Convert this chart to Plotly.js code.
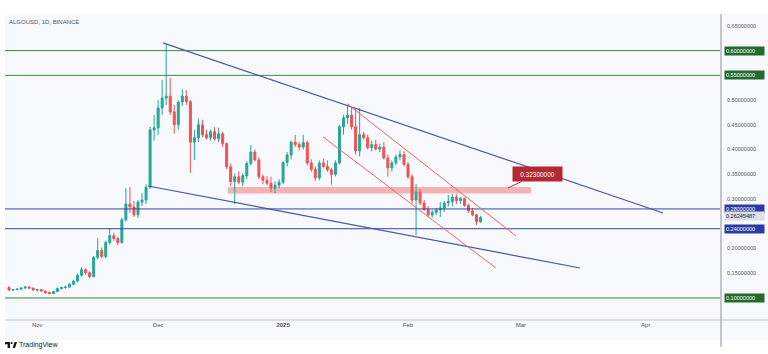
<!DOCTYPE html>
<html><head><meta charset="utf-8">
<script src="https://cdn.plot.ly/plotly-3.0.1.min.js"></script>
<style>html,body{margin:0;padding:0;background:#fff;}#chart{width:768px;height:354px;}</style>
</head><body><div id="chart"></div>
<script>
// ---- data (daily candles, ALGOUSD 1D, starting 2024-10-25) ----
const startDate = [2024, 9, 25];
const open = [.121,.116,.117,.118,.120,.122,.120,.116,.117,.114,
.111,.109,.113,.119,.121,.122,.128,.134,.146,.157,
.151,.143,.182,.196,.184,.212,.226,.220,.212,.258,
.290,.284,.268,.294,.298,.324,.440,.444,.484,.504,
.508,.476,.450,.496,.508,.497,.415,.424,.450,.430,
.424,.436,.422,.432,.412,.365,.335,.345,.334,.347,
.372,.395,.379,.345,.338,.332,.322,.328,.334,.374,
.389,.415,.410,.405,.414,.373,.360,.343,.373,.366,
.359,.350,.373,.446,.464,.470,.446,.397,.430,.424,
.404,.410,.401,.405,.383,.363,.373,.385,.390,.370,
.345,.298,.314,.292,.279,.268,.273,.278,.282,.292,
.295,.304,.297,.301,.287,.276,.268,.254];
const high = [.124,.119,.119,.121,.124,.124,.121,.118,.118,.115,
.113,.114,.121,.123,.125,.129,.137,.149,.162,.160,
.154,.185,.221,.202,.216,.241,.232,.224,.262,.322,
.324,.296,.298,.312,.330,.446,.470,.500,.541,.612,
.545,.490,.500,.522,.520,.500,.440,.462,.460,.440,
.440,.445,.444,.436,.414,.372,.352,.356,.352,.376,
.409,.400,.384,.350,.346,.345,.336,.340,.376,.395,
.418,.430,.415,.430,.418,.380,.366,.378,.382,.378,
.363,.378,.450,.470,.490,.486,.484,.484,.436,.430,
.418,.420,.412,.415,.390,.378,.390,.398,.397,.375,
.350,.330,.320,.298,.286,.278,.282,.294,.296,.308,
.310,.310,.305,.303,.290,.282,.270,.266];
const low = [.114,.114,.116,.116,.119,.119,.115,.113,.113,.108,
.107,.108,.112,.117,.119,.121,.126,.132,.143,.147,
.140,.142,.178,.180,.180,.208,.215,.207,.210,.254,
.272,.264,.262,.286,.290,.320,.418,.430,.470,.490,
.470,.432,.440,.488,.490,.353,.379,.415,.425,.420,
.418,.418,.415,.405,.360,.326,.290,.330,.326,.340,
.368,.376,.340,.330,.328,.314,.312,.322,.330,.366,
.380,.405,.398,.400,.368,.355,.336,.338,.362,.355,
.329,.346,.370,.430,.452,.440,.390,.386,.420,.400,
.396,.398,.395,.380,.345,.355,.368,.378,.366,.340,
.290,.227,.288,.276,.265,.262,.268,.264,.274,.285,
.285,.290,.290,.284,.272,.265,.248,.252];
const close = [.116,.117,.118,.120,.122,.120,.116,.117,.114,.111,
.109,.113,.119,.121,.122,.128,.134,.146,.157,.151,
.143,.182,.196,.184,.212,.226,.220,.212,.258,.290,
.284,.268,.294,.298,.324,.440,.444,.484,.504,.508,
.476,.450,.496,.508,.497,.415,.424,.450,.430,.424,
.436,.422,.432,.412,.365,.335,.345,.334,.347,.372,
.395,.379,.345,.338,.332,.322,.328,.334,.374,.389,
.415,.410,.405,.414,.373,.360,.343,.373,.366,.359,
.350,.373,.446,.464,.470,.446,.397,.430,.424,.404,
.410,.401,.405,.383,.363,.373,.385,.390,.370,.345,
.298,.314,.292,.279,.268,.273,.278,.282,.292,.295,
.304,.297,.301,.287,.276,.268,.254,.26245487];

const yTickVals = [0.65, 0.50, 0.45, 0.40, 0.35, 0.30, 0.20, 0.15];
const greenLevels = [0.60, 0.55, 0.10];
const blueLevels = [0.28, 0.24];
const lastPrice = 0.26245487;
const lastPriceLabelY = 0.2655;
const monthTicks = ['2024-11-01','2024-12-01','2025-01-01','2025-02-01','2025-03-01','2025-04-01'];
const monthLabels = ['Nov','Dec','<b>2025</b>','Feb','Mar','Apr'];

// drawn trendlines (date, price)
const blueTrendX0 = ['2024-12-02 05:00', '2024-11-28 12:00'];
const blueTrendY0 = [0.6156, 0.3264];
const blueTrendX1 = ['2025-04-05 07:00', '2025-03-15 17:00'];
const blueTrendY1 = [0.2718, 0.1606];
const redTrendX0 = ['2025-01-16 22:00', '2025-01-10 22:00'];
const redTrendY0 = [0.4923, 0.4255];
const redTrendX1 = ['2025-02-27 19:00', '2025-02-22 19:00'];
const redTrendY1 = [0.2253, 0.1606];
const zoneX = ['2024-12-18 07:00', '2025-03-03 12:00'];
const zoneY = [0.311, 0.3245];
const zoneLabel = 0.323;
const zoneLabelAt = ['2025-02-25 19:00', 0.3224];

const dates = open.map((_, i) => new Date(Date.UTC(startDate[0], startDate[1], startDate[2]) + i * 86400000).toISOString().slice(0, 10));

const FONT = 'Liberation Sans, Arial, sans-serif';
const trace = {
  type: 'candlestick', x: dates, open: open, high: high, low: low, close: close,
  increasing: {line: {color: '#26a69a', width: 1}, fillcolor: '#26a69a'},
  decreasing: {line: {color: '#ef5350', width: 1}, fillcolor: '#ef5350'},
  whiskerwidth: 0, hoverinfo: 'none', showlegend: false
};

const shapes = [
  {type:'rect', xref:'paper', yref:'paper', x0:0, x1:1.07, y0:-0.066, y1:1, fillcolor:'#f8f9fc', line:{width:0}, layer:'below'},
  {type:'line', xref:'paper', yref:'paper', x0:0, x1:1.07, y0:0, y1:0, line:{color:'#c3c6ce', width:1}},
  {type:'line', xref:'paper', yref:'paper', x0:1.0014, x1:1.0014, y0:-0.088, y1:1, line:{color:'#8d9099', width:1}}
];
greenLevels.forEach(v => shapes.push({type:'line', xref:'paper', yref:'y', x0:0, x1:1, y0:v, y1:v, line:{color:'#3b8a3e', width:1}}));
blueLevels.forEach(v => shapes.push({type:'line', xref:'paper', yref:'y', x0:0, x1:1, y0:v, y1:v, line:{color:'#3446a6', width:1}}));
shapes.push({type:'rect', xref:'x', yref:'y', x0:zoneX[0], x1:zoneX[1], y0:zoneY[0], y1:zoneY[1], fillcolor:'rgba(239,83,80,0.42)', line:{width:0}, layer:'below'});
for (let i = 0; i < 2; i++) {
  shapes.push({type:'line', xref:'x', yref:'y', x0:blueTrendX0[i], y0:blueTrendY0[i], x1:blueTrendX1[i], y1:blueTrendY1[i], line:{color:'#4656ad', width:1.2}});
  shapes.push({type:'line', xref:'x', yref:'y', x0:redTrendX0[i], y0:redTrendY0[i], x1:redTrendX1[i], y1:redTrendY1[i], line:{color:'#f06262', width:1}});
}
// TradingView logo glyph
shapes.push({type:'path', xref:'paper', yref:'paper', xsizemode:'pixel', ysizemode:'pixel', xanchor:0, yanchor:0,
  path:'M0,-22 L5,-22 L5,-28 L2.6,-28 L2.6,-24.2 L0,-24.2 Z', fillcolor:'#131722', line:{width:0}});
shapes.push({type:'circle', xref:'paper', yref:'paper', xsizemode:'pixel', ysizemode:'pixel', xanchor:0, yanchor:0,
  x0:5.6, x1:7.8, y0:-22, y1:-24.2, fillcolor:'#131722', line:{width:0}});
shapes.push({type:'path', xref:'paper', yref:'paper', xsizemode:'pixel', ysizemode:'pixel', xanchor:0, yanchor:0,
  path:'M7.6,-28 L9.6,-22 L12,-22 L10,-28 Z', fillcolor:'#131722', line:{width:0}});

const annotations = [];
function axisBox(v, yPos, bg, fg) {
  annotations.push({xref:'paper', yref:'y', x:1, y:yPos, xanchor:'left', yanchor:'middle', xshift:4,
    text: v.toFixed(8), showarrow:false, bgcolor:bg, font:{family:FONT, size:5.5, color:fg},
    width:37, height:6, borderpad:1, align:'left'});
}
greenLevels.forEach(v => axisBox(v, v, '#236b2a', '#ffffff'));
blueLevels.forEach(v => axisBox(v, v, '#2a3ca3', '#ffffff'));
axisBox(lastPrice, lastPriceLabelY, '#dcdfe6', '#131722');
annotations.push({xref:'x', yref:'y', x:zoneLabelAt[0], y:zoneLabelAt[1], ax:30, ay:-14,
  text: zoneLabel.toFixed(8), showarrow:true, arrowhead:0, arrowwidth:1, arrowcolor:'#b22833',
  bgcolor:'#b22833', font:{family:FONT, size:6.5, color:'#ffffff'}, width:44, height:9, borderpad:2.5});
annotations.push({xref:'paper', yref:'paper', x:0.0168, y:-0.0817, xanchor:'left', yanchor:'middle',
  text:'TradingView', showarrow:false, font:{family:FONT, size:7, color:'#131722'}});

const layout = {
  width:768, height:354,
  margin:{l:5, r:48, t:14, b:34},
  paper_bgcolor:'#ffffff', plot_bgcolor:'rgba(0,0,0,0)',
  title:{text:'ALGOUSD, 1D, BINANCE', x:9/768, xanchor:'left', xref:'container', y:1-22/354, yanchor:'middle', yref:'container',
    font:{family:FONT, size:6, color:'#50535e'}},
  font:{family:FONT},
  xaxis:{type:'date', range:['2024-10-24 00:00','2025-04-19 10:00'], rangeslider:{visible:false},
    tickvals:monthTicks, ticktext:monthLabels, showgrid:false, zeroline:false, showline:false, ticks:'',
    tickfont:{family:FONT, size:6, color:'#50535e'}, fixedrange:true},
  yaxis:{side:'right', range:[0.0555,0.674], tickvals:yTickVals, ticktext:yTickVals.map(v => v.toFixed(8)),
    showgrid:false, zeroline:false, showline:false, ticks:'', ticklabelstandoff:6,
    tickfont:{family:FONT, size:5.5, color:'#50535e'}, fixedrange:true},
  shapes:shapes, annotations:annotations, showlegend:false
};
Plotly.newPlot('chart', [trace], layout, {displayModeBar:false, staticPlot:true});
</script></body></html>
